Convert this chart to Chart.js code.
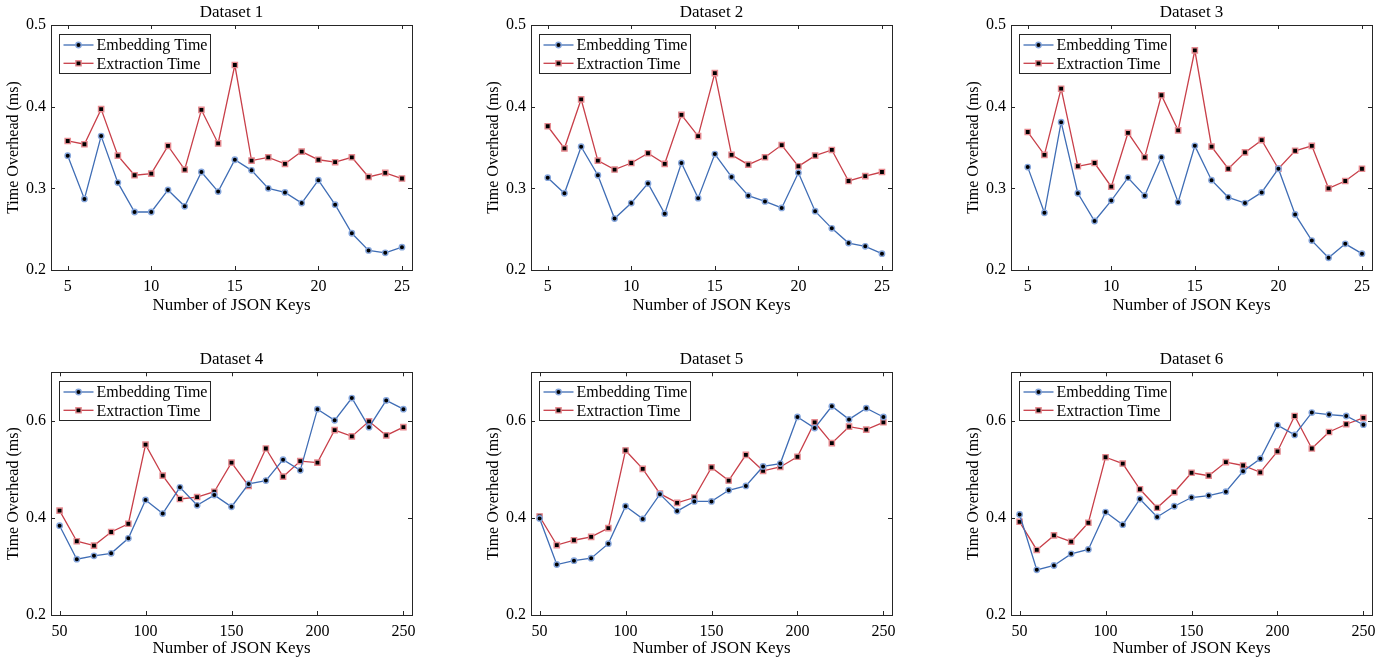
<!DOCTYPE html>
<html>
<head>
<title>Time Overhead vs Number of JSON Keys</title>
<script src="https://cdn.jsdelivr.net/npm/chart.js"></script>
<style>
    body {
        margin: 0;
        background: #fff;
    }
    #wrap {
        position: relative;
        width: 1391px;
        height: 662px;
    }
    .panel {
        position: absolute;
        width: 470px;
    }
    .top { top: 0; height: 330px; }
    .bottom { top: 340px; height: 322px; }
</style>
</head>
<body>
<div id="wrap">
    <div class="panel top" style="left:0"><canvas id="c1"></canvas></div>
    <div class="panel top" style="left:480px"><canvas id="c2"></canvas></div>
    <div class="panel top" style="left:960px"><canvas id="c3"></canvas></div>
    <div class="panel bottom" style="left:0"><canvas id="c4"></canvas></div>
    <div class="panel bottom" style="left:480px"><canvas id="c5"></canvas></div>
    <div class="panel bottom" style="left:960px"><canvas id="c6"></canvas></div>
</div>

<script>
    // x categories
    const keysSmall = [5, 6, 7, 8, 9, 10, 11, 12, 13, 14, 15, 16, 17, 18, 19, 20, 21, 22, 23, 24, 25];
    const keysLarge = [50, 60, 70, 80, 90, 100, 110, 120, 130, 140, 150, 160, 170, 180, 190, 200, 210, 220, 230, 240, 250];

    // tick labels
    const xTicksSmall = [5, 10, 15, 20, 25];
    const xTicksLarge = [50, 100, 150, 200, 250];
    const yTicksTop = [0.2, 0.3, 0.4, 0.5];
    const yTicksBottom = [0.2, 0.4, 0.6];

    // series (ms)
    const embed1   = [0.340, 0.287, 0.364, 0.307, 0.271, 0.271, 0.298, 0.278, 0.320, 0.296, 0.335, 0.322, 0.300, 0.295, 0.282, 0.310, 0.280, 0.245, 0.224, 0.221, 0.228];
    const extract1 = [0.358, 0.354, 0.397, 0.340, 0.316, 0.318, 0.352, 0.323, 0.396, 0.355, 0.451, 0.334, 0.338, 0.330, 0.345, 0.335, 0.332, 0.338, 0.314, 0.319, 0.312];

    const embed2   = [0.313, 0.294, 0.351, 0.316, 0.263, 0.282, 0.306, 0.269, 0.331, 0.288, 0.342, 0.314, 0.291, 0.284, 0.276, 0.319, 0.272, 0.251, 0.233, 0.229, 0.220];
    const extract2 = [0.376, 0.349, 0.409, 0.334, 0.323, 0.331, 0.343, 0.330, 0.390, 0.364, 0.441, 0.341, 0.329, 0.338, 0.353, 0.327, 0.340, 0.347, 0.309, 0.315, 0.320];

    const embed3   = [0.326, 0.270, 0.381, 0.294, 0.260, 0.285, 0.313, 0.291, 0.338, 0.283, 0.352, 0.310, 0.289, 0.282, 0.295, 0.324, 0.268, 0.236, 0.215, 0.232, 0.220];
    const extract3 = [0.369, 0.341, 0.422, 0.327, 0.331, 0.302, 0.368, 0.338, 0.414, 0.371, 0.469, 0.351, 0.324, 0.344, 0.359, 0.324, 0.346, 0.352, 0.300, 0.309, 0.324];

    const embed4   = [0.384, 0.315, 0.322, 0.327, 0.358, 0.437, 0.409, 0.463, 0.426, 0.447, 0.423, 0.470, 0.477, 0.520, 0.498, 0.624, 0.601, 0.647, 0.587, 0.642, 0.624];
    const extract4 = [0.415, 0.352, 0.343, 0.371, 0.388, 0.551, 0.487, 0.439, 0.443, 0.454, 0.514, 0.466, 0.543, 0.485, 0.517, 0.514, 0.581, 0.568, 0.599, 0.570, 0.587];

    const embed5   = [0.399, 0.304, 0.312, 0.317, 0.347, 0.424, 0.398, 0.449, 0.414, 0.434, 0.434, 0.457, 0.466, 0.506, 0.512, 0.608, 0.585, 0.630, 0.603, 0.626, 0.608];
    const extract5 = [0.403, 0.344, 0.354, 0.361, 0.379, 0.539, 0.501, 0.450, 0.431, 0.442, 0.504, 0.477, 0.530, 0.497, 0.505, 0.526, 0.597, 0.554, 0.588, 0.582, 0.597];

    const embed6   = [0.407, 0.293, 0.302, 0.326, 0.335, 0.412, 0.386, 0.439, 0.402, 0.424, 0.442, 0.446, 0.454, 0.496, 0.522, 0.591, 0.571, 0.617, 0.613, 0.610, 0.592];
    const extract6 = [0.392, 0.334, 0.364, 0.351, 0.390, 0.525, 0.512, 0.459, 0.421, 0.453, 0.493, 0.487, 0.515, 0.508, 0.494, 0.537, 0.610, 0.543, 0.577, 0.593, 0.606];

    const SERIF = "'Liberation Serif', 'Times New Roman', serif";
    const AXIS_COLOR = '#262626';

    // box + inward ticks on all four sides, and the legend inside the axes
    const framePlugin = {
        id: 'frame',
        afterDraw(chart) {
            const ctx = chart.ctx;
            const a = chart.chartArea;
            const xs = chart.scales.x, ys = chart.scales.y;
            ctx.save();
            ctx.strokeStyle = AXIS_COLOR;
            ctx.lineWidth = 1;
            ctx.beginPath();
            xs.ticks.forEach(t => {
                const px = Math.round(xs.getPixelForValue(t.value)) + 0.5;
                ctx.moveTo(px, a.bottom); ctx.lineTo(px, a.bottom - 4);
                ctx.moveTo(px, a.top); ctx.lineTo(px, a.top + 4);
            });
            ys.ticks.forEach(t => {
                const py = Math.round(ys.getPixelForValue(t.value)) + 0.5;
                ctx.moveTo(a.left, py); ctx.lineTo(a.left + 4, py);
                ctx.moveTo(a.right, py); ctx.lineTo(a.right - 4, py);
            });
            ctx.stroke();
            ctx.strokeRect(Math.round(a.left) + 0.5, Math.round(a.top) + 0.5,
                Math.round(a.right - a.left), Math.round(a.bottom - a.top));

            // legend
            const lx = Math.round(a.left) + 8.5, ly = Math.round(a.top) + 9.5;
            ctx.fillStyle = '#fff';
            ctx.fillRect(lx, ly, 151, 39);
            ctx.strokeStyle = AXIS_COLOR;
            ctx.strokeRect(lx, ly, 151, 39);
            ctx.font = '16px ' + SERIF;
            ctx.textBaseline = 'middle';
            chart.data.datasets.forEach((ds, i) => {
                const y = ly + 10.5 + i * 18.3;
                ctx.strokeStyle = ds.borderColor;
                ctx.lineWidth = ds.borderWidth;
                ctx.beginPath();
                ctx.moveTo(lx + 4, y); ctx.lineTo(lx + 34, y);
                ctx.stroke();
                ctx.fillStyle = ds.pointBackgroundColor;
                ctx.strokeStyle = ds.pointBorderColor;
                ctx.lineWidth = ds.pointBorderWidth;
                Chart.helpers.drawPoint(ctx, {
                    pointStyle: ds.pointStyle, rotation: 0,
                    radius: ds.pointRadius, borderWidth: ds.pointBorderWidth
                }, lx + 19, y);
                ctx.fillStyle = '#000';
                ctx.fillText(ds.label, lx + 37, y + 1);
            });
            ctx.restore();
        }
    };

    function makeChart(id, title, keys, embed, extract, isTop) {
        const xTicks = isTop ? xTicksSmall : xTicksLarge;
        const yTicks = isTop ? yTicksTop : yTicksBottom;
        const toPoints = vals => vals.map((v, i) => ({ x: keys[i], y: v }));

        new Chart(document.getElementById(id), {
            type: 'line',
            data: {
                datasets: [{
                    label: 'Embedding Time',
                    data: toPoints(embed),
                    borderColor: '#3f6db5',
                    borderWidth: 1.3,
                    pointStyle: 'circle',
                    pointRadius: 2.7,
                    pointBackgroundColor: '#000',
                    pointBorderColor: '#86a6dc',
                    pointBorderWidth: 1.4
                }, {
                    label: 'Extraction Time',
                    data: toPoints(extract),
                    borderColor: '#c83f49',
                    borderWidth: 1.3,
                    pointStyle: 'rect',
                    pointRadius: 3.7,
                    pointBackgroundColor: '#000',
                    pointBorderColor: '#e68a90',
                    pointBorderWidth: 1.4
                }]
            },
            options: {
                responsive: true,
                maintainAspectRatio: false,
                animation: false,
                layout: { padding: { right: 58 } },
                plugins: {
                    legend: { display: false },
                    tooltip: { enabled: false },
                    title: {
                        display: true,
                        text: title,
                        fullSize: false,
                        color: '#000',
                        font: { family: SERIF, size: 17, weight: 'normal' },
                        padding: isTop ? { top: 2.4, bottom: 2.2 } : { top: 9.8, bottom: 2.1 }
                    }
                },
                scales: {
                    x: {
                        type: 'linear',
                        min: isTop ? 4 : 45,
                        max: isTop ? 25.6 : 255,
                        grid: { display: false, drawTicks: false, tickLength: 0 },
                        border: { display: false },
                        afterBuildTicks: s => { s.ticks = xTicks.map(v => ({ value: v })); },
                        afterFit: s => { s.height = isTop ? 60 : 47; },
                        ticks: {
                            color: '#000',
                            padding: 7,
                            maxRotation: 0,
                            font: { family: SERIF, size: 16 },
                            callback: v => String(v)
                        },
                        title: {
                            display: true,
                            text: 'Number of JSON Keys',
                            color: '#000',
                            font: { family: SERIF, size: 17 },
                            padding: { top: 0, bottom: isTop ? 13.8 : 2.8 }
                        }
                    },
                    y: {
                        min: 0.2,
                        max: isTop ? 0.5 : 0.7,
                        grid: { display: false, drawTicks: false, tickLength: 0 },
                        border: { display: false },
                        afterBuildTicks: s => { s.ticks = yTicks.map(v => ({ value: v })); },
                        afterFit: s => { s.width = 51; },
                        ticks: {
                            color: '#000',
                            padding: 5,
                            font: { family: SERIF, size: 16 },
                            callback: v => v.toFixed(1)
                        },
                        title: {
                            display: true,
                            text: 'Time Overhead (ms)',
                            color: '#000',
                            font: { family: SERIF, size: 16 },
                            padding: { top: 4.4, bottom: 0 }
                        }
                    }
                }
            },
            plugins: [framePlugin]
        });
    }

    makeChart('c1', 'Dataset 1', keysSmall, embed1, extract1, true);
    makeChart('c2', 'Dataset 2', keysSmall, embed2, extract2, true);
    makeChart('c3', 'Dataset 3', keysSmall, embed3, extract3, true);
    makeChart('c4', 'Dataset 4', keysLarge, embed4, extract4, false);
    makeChart('c5', 'Dataset 5', keysLarge, embed5, extract5, false);
    makeChart('c6', 'Dataset 6', keysLarge, embed6, extract6, false);
</script>
</body>
</html>
